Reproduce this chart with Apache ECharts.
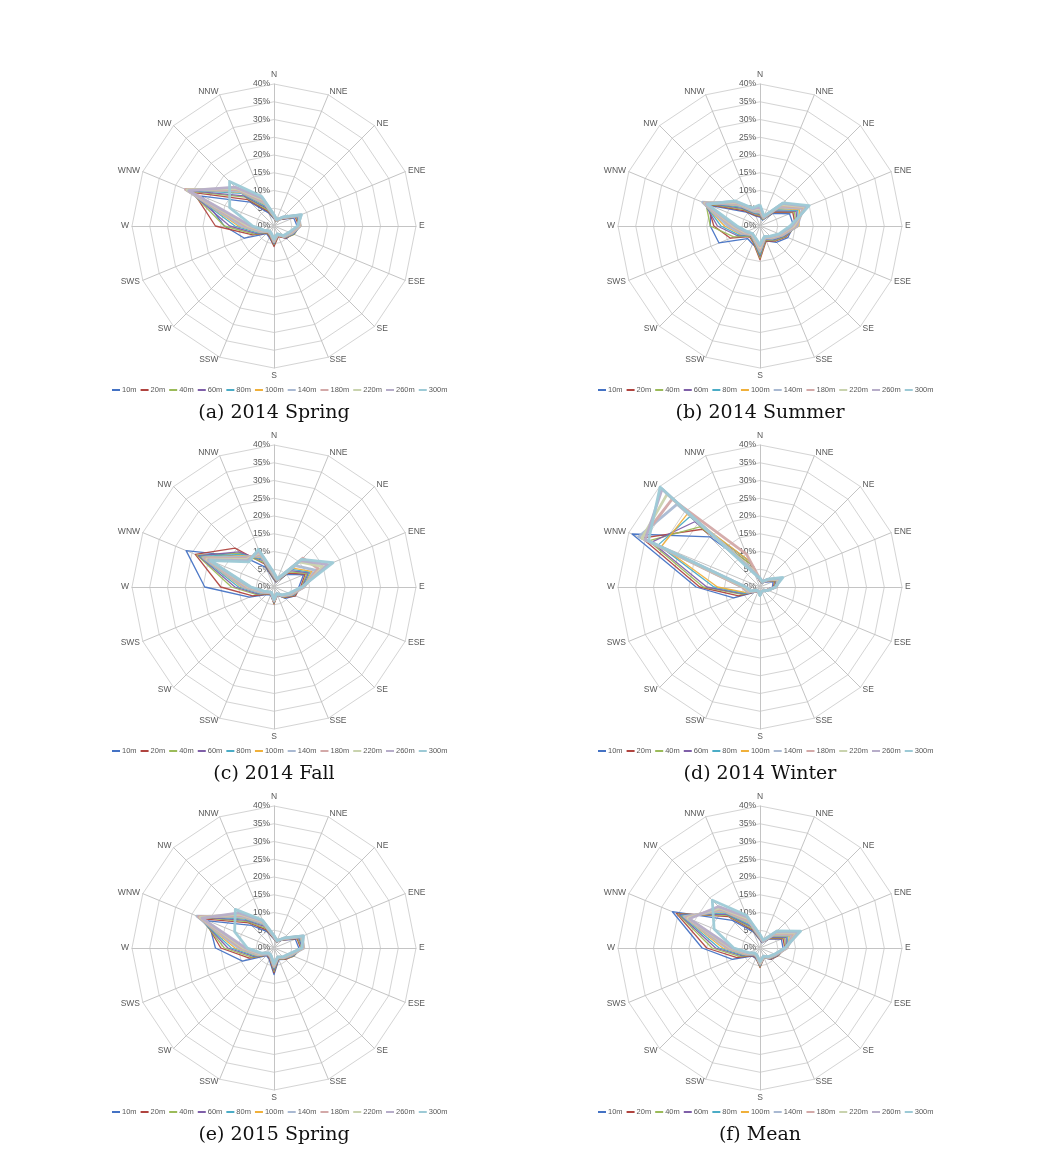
<!DOCTYPE html>
<html><head><meta charset="utf-8">
<script src="https://cdn.jsdelivr.net/npm/echarts@6/dist/echarts.min.js"></script>
<style>html,body{margin:0;padding:0;background:#fff}#c{width:1044px;height:1162px}</style>
</head><body><div id="c"></div>
<script>
// ---------- data ----------
const directions = ['N','NNE','NE','ENE','E','ESE','SE','SSE','S','SSW','SW','SWS','W','WNW','NW','NNW'];
const heights = ['10m','20m','40m','60m','80m','100m','140m','180m','220m','260m','300m'];
const tickLabels = ['0%','5%','10%','15%','20%','25%','30%','35%','40%'];
const captions = ['(a) 2014 Spring','(b) 2014 Summer','(c) 2014 Fall','(d) 2014 Winter','(e) 2015 Spring','(f) Mean'];

// each row: one height, values in % for N, NNE, ... NNW
const spring2014 = [
  [2.0,1.5,2.5,6.0,6.5,5.5,5.0,3.0,5.5,3.5,3.0,9.0,14.0,22.0,9.5,4.0],
  [2.2,1.4,2.6,6.5,7.0,6.0,4.8,3.2,5.8,3.2,2.8,6.5,16.5,24.5,10.5,4.5],
  [2.3,1.5,2.8,6.8,7.2,6.2,4.6,3.0,5.2,3.0,2.6,6.0,14.0,25.5,11.5,5.0],
  [2.5,1.6,3.0,7.0,7.4,6.0,4.5,2.8,5.0,2.8,2.5,5.5,12.5,26.0,12.0,5.5],
  [2.6,1.6,3.0,7.2,7.5,5.8,4.4,2.8,4.8,2.7,2.4,5.0,11.0,26.5,13.0,6.0],
  [2.7,1.7,3.1,7.4,7.6,5.6,4.3,2.7,4.6,2.6,2.3,4.6,10.0,26.8,13.5,6.5],
  [2.8,1.7,3.2,7.6,7.4,5.4,4.2,2.6,4.4,2.5,2.2,4.2,9.0,27.0,14.0,7.0],
  [2.9,1.8,3.3,7.8,7.2,5.2,4.1,2.6,4.2,2.4,2.1,3.8,8.0,27.0,14.5,7.5],
  [3.0,1.8,3.4,8.0,7.0,5.0,4.0,2.5,4.0,2.3,2.0,3.5,7.2,26.5,15.0,8.0],
  [3.1,1.9,3.5,8.2,6.8,4.8,3.9,2.5,3.8,2.2,2.0,3.2,6.5,26.0,15.5,8.5],
  [3.2,2.0,3.6,8.4,6.6,4.6,3.8,2.4,3.6,2.1,1.9,3.0,6.0,13.5,17.7,9.0]
];
const summer2014 = [
  [2.5,1.8,5.0,9.0,9.5,8.5,6.5,4.5,7.0,5.5,5.0,12.5,14.0,15.0,5.5,3.0],
  [2.8,2.0,5.5,10.0,10.0,8.0,6.0,4.5,9.5,5.0,4.2,9.0,13.0,16.0,6.0,3.2],
  [3.0,2.0,5.8,10.5,10.2,7.8,5.8,4.2,9.0,4.8,4.0,8.0,14.0,16.5,6.5,3.5],
  [3.2,2.2,6.0,11.0,10.5,7.5,5.5,4.0,8.5,4.6,3.8,7.0,12.0,17.0,7.0,3.8],
  [3.4,2.3,6.5,11.5,10.8,7.2,5.2,3.8,8.0,4.5,3.6,6.5,11.0,17.2,7.5,4.0],
  [3.6,2.4,7.0,12.0,11.0,7.0,5.0,3.7,7.5,4.4,3.5,6.0,10.0,17.5,8.0,4.2],
  [4.0,2.5,7.5,13.0,10.5,6.8,4.8,3.6,7.0,4.2,3.4,5.5,9.0,17.5,8.5,4.5],
  [4.5,2.6,8.0,13.5,10.0,6.5,4.6,3.5,6.5,4.0,3.3,5.0,8.0,17.0,9.0,4.8],
  [5.0,2.8,8.5,14.0,9.5,6.2,4.4,3.4,6.0,3.8,3.2,4.6,7.5,16.8,9.5,5.0],
  [5.5,2.9,9.0,14.5,9.0,6.0,4.2,3.3,5.6,3.6,3.1,4.3,7.0,16.5,9.8,5.2],
  [6.0,3.0,9.2,15.0,8.5,5.8,4.0,3.2,5.2,3.5,3.0,4.0,6.5,16.0,10.0,5.5]
];
const fall2014 = [
  [2.0,1.5,5.0,9.0,7.0,6.5,4.5,2.5,4.5,2.5,3.0,7.5,19.5,26.8,12.0,6.0],
  [2.2,1.6,5.5,9.5,7.5,6.5,4.2,2.5,4.8,2.3,2.8,6.5,15.0,24.0,15.5,7.0],
  [2.4,1.7,6.0,10.0,7.8,6.2,4.0,2.4,4.6,2.2,2.6,5.5,12.0,23.5,13.5,7.5],
  [2.6,1.8,6.5,10.5,8.0,6.0,3.8,2.3,4.4,2.1,2.5,5.0,11.0,23.0,14.0,8.0],
  [2.8,1.9,7.0,11.0,8.2,5.8,3.7,2.3,4.2,2.0,2.4,4.6,10.0,22.5,13.0,8.5],
  [3.0,2.0,7.5,11.5,8.4,5.6,3.6,2.2,4.0,2.0,2.3,4.2,9.2,22.0,12.5,9.0],
  [3.2,2.1,8.5,12.5,8.5,5.4,3.5,2.2,3.9,1.9,2.2,3.9,8.5,21.5,12.0,9.5],
  [3.4,2.2,11.5,13.5,8.4,5.2,3.4,2.1,3.8,1.9,2.1,3.6,7.8,21.0,11.5,10.0],
  [3.6,2.3,10.0,15.0,8.2,5.0,3.3,2.1,3.7,1.8,2.0,3.4,7.2,20.5,11.0,10.5],
  [3.8,2.4,10.5,16.5,8.0,4.8,3.2,2.0,3.6,1.8,2.0,3.2,6.8,20.0,10.5,11.0],
  [4.0,2.5,11.0,18.0,7.8,4.6,3.1,2.0,3.5,1.7,1.9,3.0,6.5,19.5,10.0,11.5]
];
const winter2014 = [
  [1.5,1.2,2.0,4.0,3.5,2.0,1.5,1.3,1.8,1.5,2.0,8.0,18.0,39.0,20.0,6.0],
  [1.6,1.3,2.2,4.5,3.8,2.0,1.5,1.3,1.9,1.5,1.9,6.5,17.0,36.0,23.0,7.0],
  [1.7,1.3,2.3,4.8,4.0,2.1,1.5,1.3,2.0,1.4,1.8,5.5,16.0,34.0,24.0,7.0],
  [1.8,1.4,2.4,5.0,4.2,2.1,1.5,1.3,2.0,1.4,1.7,5.0,15.0,33.0,26.0,8.0],
  [1.9,1.4,2.5,5.2,4.4,2.2,1.5,1.3,2.1,1.4,1.6,4.6,13.0,31.0,28.0,8.0],
  [2.0,1.5,2.6,5.4,4.5,2.2,1.5,1.3,2.1,1.3,1.6,4.2,12.0,30.0,29.0,8.0],
  [2.1,1.5,2.7,5.6,4.6,2.3,1.5,1.3,2.2,1.3,1.5,3.8,5.0,37.0,33.0,5.0],
  [2.2,1.6,2.8,5.8,4.6,2.3,1.5,1.3,2.2,1.3,1.5,3.5,5.0,36.0,35.0,10.0],
  [2.3,1.6,2.9,6.0,4.5,2.4,1.5,1.3,2.3,1.3,1.4,3.2,4.5,36.0,37.0,5.0],
  [2.4,1.7,3.0,6.5,4.4,2.4,1.5,1.3,2.3,1.2,1.4,3.0,4.0,35.0,39.0,4.5],
  [2.5,1.7,3.1,7.0,4.3,2.5,1.5,1.3,2.4,1.2,1.3,2.8,4.0,34.0,39.8,4.0]
];
const spring2015 = [
  [2.5,1.8,3.0,6.5,7.0,5.5,4.5,3.5,7.5,3.5,3.0,9.6,16.5,20.0,9.0,5.0],
  [2.6,1.8,3.1,7.0,7.5,6.0,4.5,3.3,7.0,3.2,2.8,7.5,15.0,21.5,10.0,5.5],
  [2.7,1.9,3.2,7.2,7.8,6.0,4.3,3.2,6.6,3.0,2.7,6.8,14.0,22.5,10.5,6.0],
  [2.8,2.0,3.3,7.5,8.0,5.8,4.2,3.1,6.2,2.9,2.6,6.2,13.0,23.0,11.0,6.5],
  [2.9,2.0,3.4,7.8,8.2,5.6,4.1,3.0,5.8,2.8,2.5,5.8,12.0,23.5,11.5,7.0],
  [3.0,2.1,3.5,8.0,8.3,5.4,4.0,3.0,5.5,2.7,2.4,5.4,11.0,23.7,12.0,7.2],
  [3.1,2.1,3.6,8.3,8.4,5.2,3.9,2.9,5.2,2.6,2.3,5.0,10.0,23.5,12.5,7.5],
  [3.2,2.2,3.7,8.5,8.3,5.0,3.8,2.9,5.0,2.5,2.2,4.6,9.2,23.0,13.0,7.8],
  [3.3,2.2,3.8,8.7,8.2,4.8,3.7,2.8,4.8,2.4,2.1,4.3,8.5,22.5,13.5,8.0],
  [3.4,2.3,3.9,8.9,8.0,4.6,3.6,2.8,4.6,2.3,2.0,4.0,8.0,22.0,14.0,8.3],
  [3.5,2.3,4.0,9.0,7.8,4.5,3.5,2.7,4.4,2.2,2.0,3.8,7.5,12.0,15.4,8.5]
];
const mean = [
  [2.2,1.6,3.5,6.5,6.5,5.5,4.5,3.0,5.0,3.2,3.2,8.4,16.3,26.7,11.0,5.0],
  [2.4,1.7,3.8,7.0,7.0,5.6,4.4,3.0,5.5,3.0,3.0,7.0,15.0,25.5,12.5,5.5],
  [2.5,1.8,4.0,7.5,7.2,5.5,4.2,2.9,5.3,2.9,2.8,6.2,13.5,25.0,13.0,6.0],
  [2.6,1.8,4.2,8.0,7.4,5.4,4.1,2.8,5.1,2.8,2.7,5.6,12.5,24.5,13.5,6.5],
  [2.7,1.9,4.5,8.5,7.6,5.2,4.0,2.8,4.9,2.7,2.6,5.2,11.5,24.0,14.0,7.0],
  [2.8,2.0,4.8,9.0,7.7,5.0,3.9,2.7,4.7,2.6,2.5,4.8,10.5,23.5,14.5,7.5],
  [3.0,2.0,5.2,9.8,7.6,4.9,3.8,2.7,4.5,2.5,2.4,4.4,9.5,23.0,15.0,8.0],
  [3.2,2.1,5.6,10.5,7.5,4.8,3.7,2.6,4.3,2.4,2.3,4.1,8.8,22.5,15.5,8.5],
  [3.4,2.2,6.0,11.2,7.4,4.7,3.6,2.6,4.1,2.3,2.2,3.8,8.2,22.0,16.0,9.0],
  [3.6,2.3,6.4,11.8,7.2,4.6,3.5,2.5,3.9,2.2,2.1,3.6,7.8,21.5,16.5,9.5],
  [3.8,2.4,6.8,12.4,7.0,4.5,3.4,2.5,3.8,2.2,2.0,3.4,7.4,14.0,19.0,10.0]
];
const panels = [spring2014, summer2014, fall2014, winter2014, spring2015, mean];

// ---------- styles / layout ----------
const colors = ['#4472C4','#B0443F','#9BBB59','#7F5FA8','#4BACC6','#F0B03A','#A9B9D2','#D3A9A8','#C9D3AE','#B7ADC9','#9DCAD6'];
const widths = [1.3,1.3,1.3,1.3,1.3,1.3,2.8,2.8,2.8,2.8,2.8];
const colX = [274, 760];
const rowY = [226, 587, 948];
const R = 142;
const legendLeft = [112, 598];
const baseFont = 'Liberation Sans';

// clockwise compass order -> ECharts (counter-clockwise) indicator order
const order = directions.map((d, i) => (16 - i) % 16);

const radars = [], series = [], legends = [], titles = [];
panels.forEach((panel, p) => {
  const cx = colX[p % 2], cy = rowY[Math.floor(p / 2)];
  radars.push({
    center: [cx, cy], radius: R, startAngle: 90, splitNumber: 8, shape: 'polygon',
    indicator: order.map((k, i) => {
      const ind = { name: directions[k], min: 0, max: 40 };
      if (i === 0) ind.axisLabel = {
        show: true, margin: 4, fontSize: 8.5, color: '#595959', fontFamily: baseFont,
        formatter: v => tickLabels[Math.round(v / 5)]
      };
      return ind;
    }),
    axisName: { color: '#595959', fontSize: 8.5, fontFamily: baseFont },
    nameGap: 3,
    splitLine: { lineStyle: { color: '#D4D4D4', width: 1 } },
    splitArea: { show: false },
    axisLine: { lineStyle: { color: '#C4C4C4', width: 1 } },
    axisTick: { show: false },
    axisLabel: { show: false }
  });
  panel.forEach((row, h) => {
    series.push({
      type: 'radar', radarIndex: p, name: heights[h], symbol: 'none', silent: true,
      color: colors[h], z: 2,
      lineStyle: { width: widths[h], color: colors[h], opacity: 0.95 },
      data: [{ name: heights[h], value: order.map(k => row[k]) }]
    });
  });
  legends.push({
    data: heights, left: legendLeft[p % 2], top: cy + 160, padding: 0,
    icon: 'rect', itemWidth: 8, itemHeight: 2, itemGap: 4, selectedMode: false,
    textStyle: { fontSize: 7.5, color: '#595959', fontFamily: baseFont, padding: [0, 0, 0, -3] }
  });
  titles.push({
    text: captions[p], left: cx, top: cy + 178, textAlign: 'center', padding: 0,
    textStyle: { fontFamily: 'DejaVu Serif', fontSize: 19, fontWeight: 'normal', color: '#111' }
  });
});

const chart = echarts.init(document.getElementById('c'), null, { renderer: 'canvas' });
chart.setOption({
  animation: false,
  backgroundColor: '#fff',
  title: titles,
  legend: legends,
  radar: radars,
  series: series
});
</script></body></html>
